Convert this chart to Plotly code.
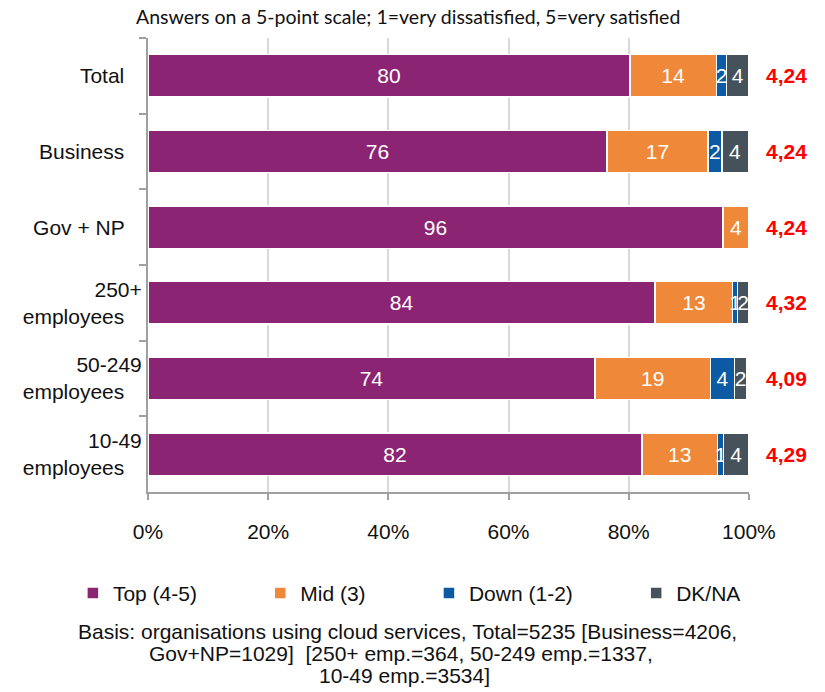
import plotly.graph_objects as go

categories = ["Total", "Business", "Gov + NP", "250+<br>employees", "50-249<br>employees", "10-49<br>employees"]
top_vals = [80.2, 76.4, 95.7, 84.4, 74.4, 82.2]
mid_vals = [14.4, 16.8, 4.3, 12.9, 19.2, 12.6]
down_vals = [1.7, 2.3, 0, 0.8, 4.0, 1.0]
dk_vals = [3.7, 4.4, 0, 1.9, 2.0, 4.2]
means = ["4,24", "4,24", "4,24", "4,32", "4,09", "4,29"]
series_names = ["Top (4-5)", "Mid (3)", "Down (1-2)", "DK/NA"]
colors = ["#8B2573", "#F0883A", "#0B5AA3", "#46525B"]
x_ticks = [0, 20, 40, 60, 80, 100]
x_ticklabels = ["0%", "20%", "40%", "60%", "80%", "100%"]
title_text = "Answers on a 5-point scale; 1=very dissatisfied, 5=very satisfied"
footnote_lines = [
    "Basis: organisations using cloud services, Total=5235 [Business=4206,",
    "Gov+NP=1029]  [250+ emp.=364, 50-249 emp.=1337,",
    "10-49 emp.=3534]",
]

FONT = "Liberation Sans, Arial"
PAD = "\u00a0" * 10

fig = go.Figure()
for name, vals, col in zip(series_names, [top_vals, mid_vals, down_vals, dk_vals], colors):
    fig.add_trace(go.Bar(
        y=categories, x=vals, name=name + PAD, orientation="h",
        marker=dict(color=col, line=dict(color="white", width=1.5)),
        text=[str(int(round(v))) if v > 0 else "" for v in vals],
        textposition="inside", insidetextanchor="middle",
        textfont=dict(color="white", size=21, family=FONT),
        width=0.56, cliponaxis=False,
    ))

for cat, m in zip(categories, means):
    fig.add_annotation(x=1.0, xref="paper", xshift=15, y=cat, yref="y", text="<b>" + m + "</b>",
                       showarrow=False, xanchor="left",
                       font=dict(color="#FF0000", size=21, family=FONT))

fig.add_annotation(x=0.4326, xref="paper", y=1.0, yref="paper", yshift=22, yanchor="middle",
                   text=title_text, showarrow=False,
                   font=dict(size=19.5, family="Lato, Open Sans", color="#111"))

foot_centers = [0.4326, 0.421, 0.4276]
foot_shifts = [-139, -161, -183]
for line, cx, ys in zip(footnote_lines, foot_centers, foot_shifts):
    fig.add_annotation(x=cx, xref="paper", y=0, yref="paper", yshift=ys, yanchor="middle",
                       text=line, showarrow=False, align="center",
                       font=dict(size=21, family=FONT, color="#111"))

fig.update_layout(
    barmode="stack",
    width=825, height=692,
    margin=dict(l=148, r=76, t=38, b=200, autoexpand=False),
    plot_bgcolor="white", paper_bgcolor="white",
    uniformtext=dict(minsize=21, mode="show"),
    font=dict(family=FONT, size=21, color="#111"),
    showlegend=True,
    legend=dict(orientation="h", x=-0.125, xanchor="left", y=-0.178, yanchor="top",
                font=dict(size=21, family=FONT), traceorder="normal", itemwidth=30),
    xaxis=dict(range=[0, 100.02], tickvals=x_ticks, ticktext=x_ticklabels, showgrid=True,
               gridcolor="#D9D9D9", gridwidth=2, showline=True, linecolor="#A0A0A0", linewidth=2,
               ticks="outside", ticklen=6, tickcolor="#A0A0A0", tickwidth=2, ticklabelstandoff=14,
               zeroline=False, tickfont=dict(size=21, family=FONT), automargin=False),
    yaxis=dict(autorange="reversed", showline=True, linecolor="#A0A0A0", linewidth=2,
               ticks="outside", tickson="boundaries", ticklen=7, tickcolor="#A0A0A0", tickwidth=2,
               tickfont=dict(size=21, family=FONT), ticksuffix="   ", automargin=False),
)

fig.write_html("out.html", config={"displayModeBar": False},
               post_script="document.body.style.margin='0';")
